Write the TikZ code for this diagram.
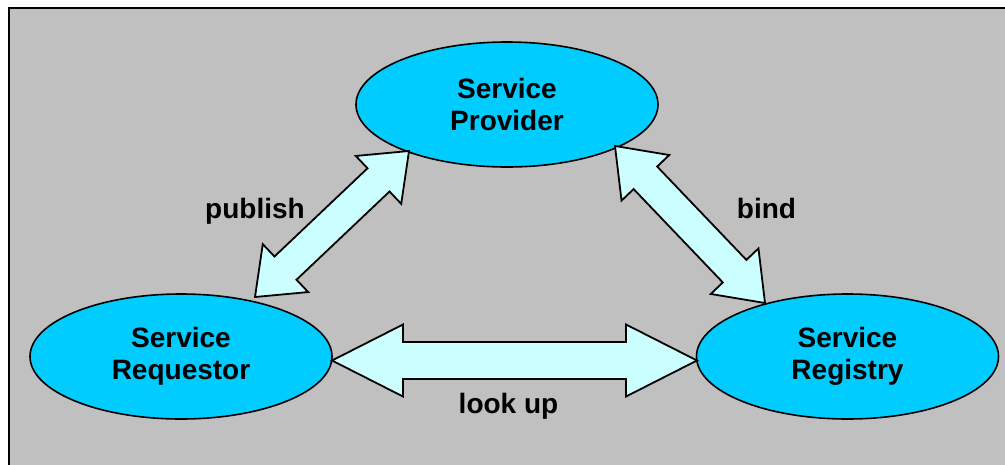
\documentclass[tikz,border=0pt]{standalone}
\usepackage{fontspec}
\setmainfont{Liberation Sans}
\usetikzlibrary{shapes.geometric,calc}

\definecolor{panelgray}{RGB}{192,192,192}
\definecolor{rolefill}{RGB}{0,204,255}
\definecolor{arrowfill}{RGB}{204,255,255}

% Block double arrow from #1 to #2: head length #3, head half-width #4, shaft half-width #5
\newcommand\blockarrow[5]{%
  \draw[flowarrow]
    (#1)
    -- ($(#1)!#3!(#2)!#4!90:(#2)$)
    -- ($(#1)!#3!(#2)!#5!90:(#2)$)
    -- ($(#2)!#3!(#1)!#5!-90:(#1)$)
    -- ($(#2)!#3!(#1)!#4!-90:(#1)$)
    -- (#2)
    -- ($(#2)!#3!(#1)!#4!90:(#1)$)
    -- ($(#2)!#3!(#1)!#5!90:(#1)$)
    -- ($(#1)!#3!(#2)!#5!-90:(#2)$)
    -- ($(#1)!#3!(#2)!#4!-90:(#2)$)
    -- cycle;}

\tikzset{
  role/.style={ellipse, draw=black, line width=1.6pt, fill=rolefill,
    minimum width=302pt, minimum height=125pt, inner sep=0pt,
    align=center, font=\fontsize{28}{31.5}\selectfont\bfseries},
  flowarrow/.style={draw=black, line width=1.8pt, fill=arrowfill, line join=miter},
  verb/.style={anchor=base, inner sep=0pt, font=\fontsize{28}{31.5}\selectfont\bfseries}
}

\begin{document}
\begin{tikzpicture}[x=1pt,y=-1pt]
  \useasboundingbox (0,0) rectangle (1005,464);
  \fill[panelgray] (9,8) rectangle (1030,490);
  \draw[black, line width=2.2pt] (9,8) rectangle (1030,490);

  % the three roles
  \node[role] (provider)  at (507,104.5) {Service\\Provider};
  \node[role] (requestor) at (181,356.5) {Service\\Requestor};
  \node[role] (registry)  at (847.5,356.5) {Service\\Registry};

  % arrow end points on the ellipse borders
  \coordinate (pubReq)  at (255,297);
  \coordinate (pubProv) at (409,151);
  \coordinate (bindProv) at (615,146);
  \coordinate (bindReg)  at (765,303);
  \coordinate (lookReq)  at (332,360.5);
  \coordinate (lookReg)  at (697,360.5);

  \blockarrow{pubReq}{pubProv}{42pt}{33pt}{16pt}
  \blockarrow{bindProv}{bindReg}{44pt}{33pt}{16.3pt}
  \blockarrow{lookReq}{lookReg}{71pt}{36pt}{18.5pt}

  % interaction labels
  \node[verb] (publish) at (255,218) {publish};
  \node[verb] (bind)    at (766.5,218) {bind};
  \node[verb] (lookup)  at (508.5,413) {look up};
\end{tikzpicture}
\end{document}
